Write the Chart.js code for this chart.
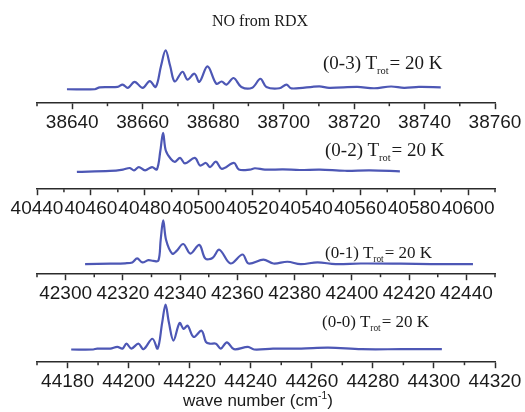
<!DOCTYPE html>
<html>
<head>
<meta charset="utf-8">
<script src="https://cdn.jsdelivr.net/npm/chart.js@4.4.0/dist/chart.umd.min.js"></script>
<style>
    body { margin: 0; background: #fff; }
    #wrap { position: relative; width: 525px; height: 412px; background: #fff; overflow: hidden; }
    #wrap canvas { position: absolute; left: 0; }
    .txt { position: absolute; white-space: nowrap; color: #1a1a1a; line-height: 1; }
    .serif { font-family: 'Liberation Serif', 'Times New Roman', serif; }
    .serif sub { font-size: 0.55em; line-height: 0; vertical-align: -0.45em; margin: 0 1px 0 0; }
    #xtitle { font-family: 'Liberation Sans', Arial, sans-serif; font-size: 17px; }
    #xtitle sup { font-size: 0.6em; line-height: 0; }
</style>
</head>
<body>
<div id="wrap">
    <canvas id="c03" width="525" height="108" style="top:28px"></canvas>
    <canvas id="c02" width="525" height="104" style="top:118px"></canvas>
    <canvas id="c01" width="525" height="102" style="top:205px"></canvas>
    <canvas id="c00" width="525" height="105" style="top:290px"></canvas>

    <div class="txt serif" style="left:212px; top:13px; font-size:16px;">NO from RDX</div>
    <div class="txt serif" style="left:323px; top:53px; font-size:19px;">(0-3) T<sub>rot</sub>= 20 K</div>
    <div class="txt serif" style="left:325px; top:140px; font-size:19px;">(0-2) T<sub>rot</sub>= 20 K</div>
    <div class="txt serif" style="left:325px; top:244px; font-size:17px;">(0-1) T<sub>rot</sub>= 20 K</div>
    <div class="txt serif" style="left:322px; top:313px; font-size:17px;">(0-0) T<sub>rot</sub>= 20 K</div>
    <div class="txt" id="xtitle" style="left:183px; top:392px;">wave number (cm<sup>-1</sup>)</div>
</div>

<script>
// (0-3) band
const wave03 = [38638.5, 38646.4, 38647.8, 38652.9, 38654.3, 38655.8, 38657.7, 38660.0, 38662.0, 38663.7,
    38665.2, 38666.5, 38667.8, 38669.1, 38671.3, 38672.7, 38674.7, 38676.1, 38678.4, 38680.9, 38682.4, 38683.8,
    38685.8, 38688.0, 38691.1, 38693.4, 38695.1, 38698.8, 38700.8, 38702.2, 38710.1, 38712.9,
    38720.9, 38725.7, 38730.5, 38734.2, 38738.4, 38744.6];
const int03 = [0, 0, 0.05, 0.06, 0.12, 0.035, 0.19, 0.035, 0.21, 0.06,
    0.6, 1.0, 0.6, 0.2, 0.45, 0.25, 0.40, 0.19, 0.59, 0.14, 0.2, 0.12,
    0.29, 0.06, 0.04, 0.27, 0.06, 0.025, 0.12, 0.02, 0.075, 0.035,
    0.06, 0.025, 0.07, 0.035, 0.06, 0.05];
const range03 = [38630, 38760];
const ticks03 = [38640, 38660, 38680, 38700, 38720, 38740, 38760];

// (0-2) band
const wave02 = [40454.8, 40467.1, 40471.9, 40474.5, 40476.0, 40477.8, 40480.1, 40482.7, 40484.5,
    40485.8, 40486.8, 40487.8, 40489.7, 40491.2, 40493.1, 40494.9, 40498.6, 40500.5, 40502.7, 40504.2, 40506.4,
    40508.6, 40513.1, 40514.9, 40519.0, 40520.9, 40524.6, 40531.3, 40537.6, 40545.0, 40554.3,
    40563.6, 40574.7];
const int02 = [0, 0.025, 0.06, 0.1, 0.04, 0.125, 0.04, 0.125, 0.065,
    0.55, 1.0, 0.55, 0.33, 0.26, 0.36, 0.22, 0.36, 0.165, 0.23, 0.125, 0.265,
    0.08, 0.23, 0.065, 0.06, 0.095, 0.06, 0.065, 0.05, 0.06, 0.03,
    0.04, 0.015];
const range02 = [40440, 40610];
const ticks02 = [40440, 40460, 40480, 40500, 40520, 40540, 40560, 40580, 40600];

// (0-1) band
const wave01 = [42306.8, 42315.6, 42320.8, 42323.3, 42325.0, 42326.8, 42328.9, 42330.6, 42332.4,
    42333.2, 42334.1, 42335.1, 42337.2, 42338.6, 42341.1, 42343.6, 42346.7, 42348.8, 42351.3, 42353.7, 42357.6,
    42361.8, 42363.9, 42369.1, 42372.6, 42377.5, 42382.1, 42388.0, 42394.3, 42403.1, 42417.1,
    42427.6, 42442.3];
const int01 = [0, 0.01, 0.02, 0.04, 0.13, 0.04, 0.09, 0.075, 0.08,
    0.55, 1.0, 0.55, 0.24, 0.29, 0.46, 0.24, 0.44, 0.13, 0.14, 0.33, 0.015,
    0.22, 0.015, 0.105, 0.015, 0.055, 0, 0.04, 0, 0.015, 0.01,
    0, 0];
const range01 = [42290, 42450];
const ticks01 = [42300, 42320, 42340, 42360, 42380, 42400, 42420, 42440];

// (0-0) band
const wave00 = [44181.2, 44188.4, 44189.7, 44194.0, 44196.3, 44198.0, 44199.3, 44200.9, 44203.2, 44204.9,
    44207.8, 44209.5, 44211.0, 44212.1, 44213.2, 44214.7, 44216.7, 44218.0, 44219.3, 44221.3, 44223.9, 44225.3,
    44226.6, 44228.6, 44230.2, 44232.2, 44234.5, 44239.1, 44241.1, 44247.3, 44256.5, 44265.4,
    44276.3, 44289.4, 44302.6];
const int00 = [0, 0, 0.02, 0.02, 0.06, 0.02, 0.13, 0.02, 0.13, 0.007,
    0.24, 0.02, 0.6, 1.0, 0.6, 0.2, 0.59, 0.46, 0.53, 0.28, 0.42, 0.17,
    0.13, 0.13, 0.02, 0.16, 0.007, 0.06, 0, 0.02, 0.02, 0.04,
    0.007, 0.007, 0.007];
const range00 = [44170, 44320];
const ticks00 = [44180, 44200, 44220, 44240, 44260, 44280, 44300, 44320];

const minorStep = 10;
const lineColor = '#4d57b5';
const axisColor = '#2b2b2b';

// short ticks between the labelled ones
const minorTicks = {
    id: 'minorTicks',
    afterDraw(chart) {
        const s = chart.scales.x;
        const ctx = chart.ctx;
        const majors = chart.options.plugins.minorTicks.majors;
        ctx.save();
        ctx.strokeStyle = axisColor;
        ctx.lineWidth = 1.5;
        for (let v = s.min; v <= s.max + 0.001; v += minorStep) {
            if (majors.includes(v)) continue;
            const px = s.getPixelForValue(v);
            ctx.beginPath();
            ctx.moveTo(px, s.top);
            ctx.lineTo(px, s.top + 3);
            ctx.stroke();
        }
        ctx.restore();
    }
};

function makePanel(id, waves, ints, range, labels, yMin, yMax) {
    const ctx = document.getElementById(id).getContext('2d');
    return new Chart(ctx, {
        type: 'line',
        data: {
            datasets: [{
                data: waves.map((w, i) => ({ x: w, y: ints[i] })),
                borderColor: lineColor,
                borderWidth: 2.2,
                pointRadius: 0,
                tension: 0.35,
                fill: false
            }]
        },
        options: {
            responsive: false,
            animation: false,
            layout: { padding: { left: 37, right: 30, top: 0, bottom: 0 } },
            plugins: {
                legend: { display: false },
                tooltip: { enabled: false },
                minorTicks: { majors: labels }
            },
            scales: {
                x: {
                    type: 'linear',
                    min: range[0],
                    max: range[1],
                    afterBuildTicks: s => { s.ticks = labels.map(v => ({ value: v })); },
                    border: { display: true, color: axisColor, width: 1.5 },
                    grid: { drawOnChartArea: false, drawTicks: true, tickLength: 6, tickColor: axisColor, tickWidth: 1.5 },
                    ticks: {
                        autoSkip: false,
                        maxRotation: 0,
                        minRotation: 0,
                        padding: 2,
                        color: '#1a1a1a',
                        font: { family: "'Liberation Sans', Arial, sans-serif", size: 19 },
                        callback: v => String(v)
                    }
                },
                y: { display: false, min: yMin, max: yMax }
            }
        },
        plugins: [minorTicks]
    });
}

makePanel('c03', wave03, int03, range03, ticks03, -0.36, 1.579);
makePanel('c02', wave02, int02, range02, ticks02, -0.4425, 1.3825);
makePanel('c01', wave01, int01, range01, ticks01, -0.229, 1.349);
makePanel('c00', wave00, int00, range00, ticks00, -0.283, 1.326);
</script>
</body>
</html>
